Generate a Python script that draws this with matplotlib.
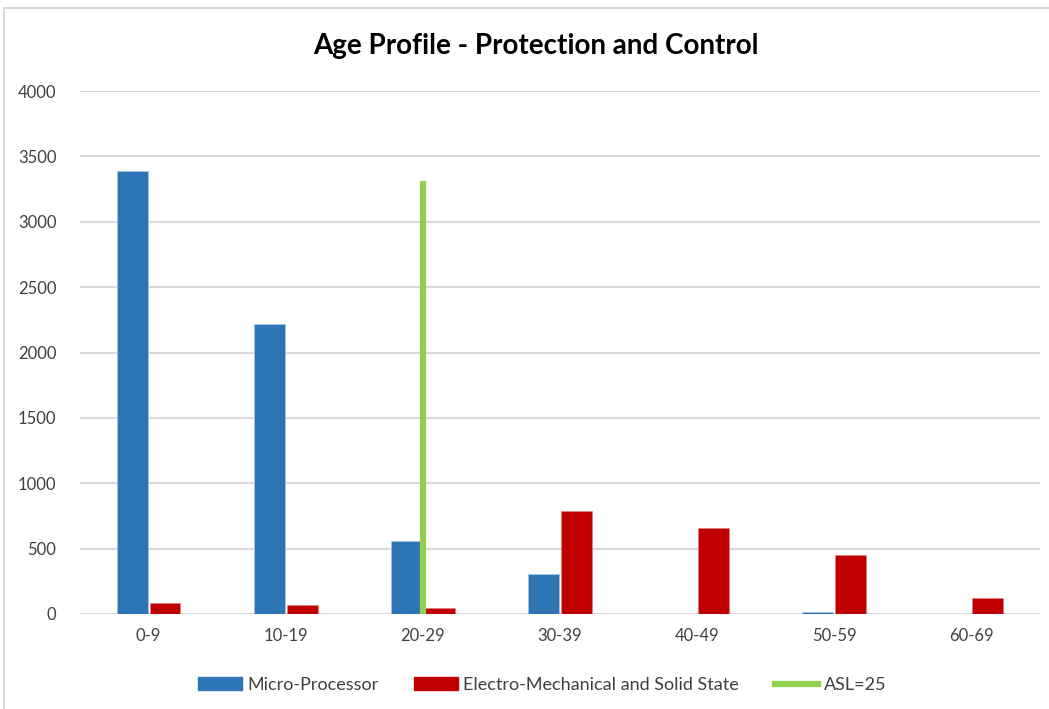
import matplotlib
matplotlib.use("Agg")
import matplotlib.pyplot as plt
from matplotlib.patches import Rectangle
from matplotlib.lines import Line2D
import numpy as np

categories = ["0-9", "10-19", "20-29", "30-39", "40-49", "50-59", "60-69"]
micro_processor = [3385, 2215, 555, 305, 0, 15, 0]
electro_mechanical = [85, 70, 45, 790, 655, 455, 125]
asl_age = 25
asl_height = 3310
y_ticks = [0, 500, 1000, 1500, 2000, 2500, 3000, 3500, 4000]

plt.rcParams['font.family'] = ['Lato', 'DejaVu Sans']

fig = plt.figure(figsize=(10.49, 7.09), dpi=100)
fig.patch.set_facecolor("white")

# outer chart border
fig.patches.append(Rectangle((4 / 1049, -0.05), 1.1, 1 - 8 / 709 + 0.05,
                             transform=fig.transFigure, fill=False,
                             edgecolor="#d9d9d9", linewidth=1.5))

ax = fig.add_axes([80 / 1049, 1 - 614 / 709, 960 / 1049, (614 - 91) / 709])

x = np.arange(len(categories))
w = 0.225
off = 0.12
ax.bar(x - off, micro_processor, width=w, color="#2E75B6",
       edgecolor="#9dc3e6", linewidth=0.6, zorder=3, label="Micro-Processor")
ax.bar(x + off, electro_mechanical, width=w, color="#C00000",
       edgecolor="#e08080", linewidth=0.4, zorder=3,
       label="Electro-Mechanical and Solid State")

# ASL marker: age 25 sits in the middle of the 20-29 band
asl_x = asl_age / 10 - 0.5
ax.plot([asl_x, asl_x], [0, asl_height], color="#92D050", linewidth=4.5,
        solid_capstyle="butt", zorder=4, label="ASL=25")

ax.set_xlim(-0.5, len(categories) - 0.5)
ax.set_ylim(0, 4000)
ax.set_yticks(y_ticks)
ax.set_yticklabels([str(t) for t in y_ticks])
ax.set_xticks(x)
ax.set_xticklabels(categories)
ax.tick_params(axis="both", length=0, labelsize=12, colors="#404040")
ax.tick_params(axis="y", pad=17)
ax.tick_params(axis="x", pad=10)
ax.grid(axis="y", color="#d9d9d9", linewidth=1.5, zorder=0)
ax.set_axisbelow(True)
for s in ax.spines.values():
    s.set_visible(False)

fig.text(0.511, 1 - 46 / 709, "Age Profile - Protection and Control",
         ha="center", va="center", fontsize=20, fontweight="bold",
         color="black")

handles = [Rectangle((0, 0), 1, 1, color="#2E75B6"),
           Rectangle((0, 0), 1, 1, color="#C00000"),
           Line2D([0], [0], color="#92D050", linewidth=4.5)]
labels = ["Micro-Processor", "Electro-Mechanical and Solid State", "ASL=25"]
leg = fig.legend(handles, labels, loc="center", ncol=3,
                 bbox_to_anchor=(0.517, 1 - 685 / 709), frameon=False,
                 fontsize=13, handlelength=2.4, handleheight=0.75,
                 handletextpad=0.3, columnspacing=2.0)
for t in leg.get_texts():
    t.set_color("#404040")

fig.savefig("out.png", dpi=100, facecolor="white")
